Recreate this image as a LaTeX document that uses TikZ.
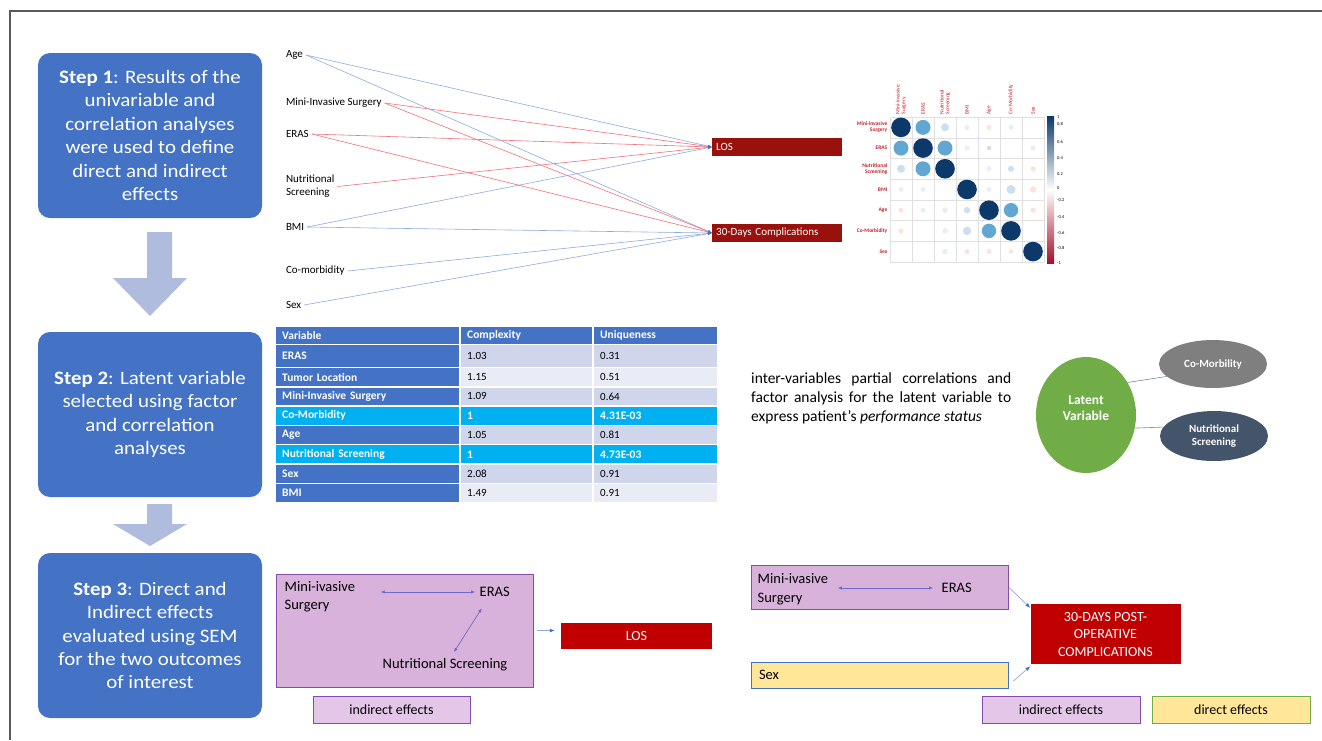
\documentclass[tikz,border=0pt]{standalone}
\usepackage{fontspec}
\setmainfont{Carlito}
\newfontfamily\stepfont[FakeStretch=1.1]{Carlito}
\usetikzlibrary{positioning,arrows.meta,shapes.geometric}

\definecolor{stepblue}{RGB}{68,114,196}
\definecolor{arrowgray}{RGB}{176,188,222}
\definecolor{outred}{RGB}{153,17,12}
\definecolor{semred}{RGB}{192,0,0}
\definecolor{lilac}{RGB}{216,178,219}
\definecolor{lilacline}{RGB}{134,76,172}
\definecolor{lilaclight}{RGB}{228,198,232}
\definecolor{sand}{RGB}{255,230,153}
\definecolor{leafgreen}{RGB}{112,173,71}
\definecolor{slate}{RGB}{68,84,106}
\definecolor{midgray}{RGB}{127,127,127}
\definecolor{linkblue}{RGB}{143,170,220}
\definecolor{linkred}{RGB}{242,112,122}
\definecolor{tbldark}{RGB}{207,213,234}
\definecolor{tbllight}{RGB}{233,235,245}
\definecolor{tblcyan}{RGB}{0,176,240}
\definecolor{corrnavy}{RGB}{12,56,106}
\definecolor{corrmid}{RGB}{98,166,210}
\definecolor{corrlight}{RGB}{202,223,240}
\definecolor{corrpale}{RGB}{230,239,247}
\definecolor{corrpink}{RGB}{251,227,216}
\definecolor{corrred}{RGB}{165,15,38}
\definecolor{corrtext}{RGB}{192,32,44}
\definecolor{twowayblue}{RGB}{112,106,200}
\definecolor{framegray}{RGB}{90,90,90}

\begin{document}
\begin{tikzpicture}[x=1pt, y=-1pt]
        % Define block styles
        \tikzstyle{stepbox} = [rectangle, fill=stepblue, text=white, rounded corners=12pt, minimum width=224pt, minimum height=165pt, align=center, font=\stepfont\fontsize{19}{23.4}\selectfont]
        \tikzstyle{var} = [anchor=west, inner sep=0.5pt, outer sep=2.5pt, align=left, font=\fontsize{11}{13}\selectfont]
        \tikzstyle{outcome} = [rectangle, fill=outred, text=white, anchor=west, minimum height=18pt, text width=122pt, inner xsep=4pt, inner ysep=0pt, font=\fontsize{11}{13}\selectfont]
        \tikzstyle{bluelink} = [draw=linkblue, line width=0.6pt, -{Latex[length=4pt, width=3pt, color=stepblue]}]
        \tikzstyle{redlink} = [draw=linkred, line width=0.6pt, -{Latex[length=4pt, width=3pt, color=stepblue]}]
        \tikzstyle{corrgrid} = [draw=black!12, line width=0.4pt]
        \tikzstyle{corrrow} = [anchor=east, align=right, text=corrtext, inner sep=0.5pt, font=\bfseries\fontsize{5.5}{6}\selectfont]
        \tikzstyle{corrcol} = [anchor=west, rotate=90, align=left, text=corrtext, inner sep=0.5pt, font=\fontsize{5.5}{5.8}\selectfont]
        \tikzstyle{barlabel} = [anchor=west, inner sep=0pt, font=\fontsize{4.5}{5}\selectfont]
        \tikzstyle{cell} = [rectangle, anchor=north west, inner xsep=6pt, inner ysep=0pt, font=\fontsize{11}{13}\selectfont]
        \tikzstyle{headcell} = [cell, fill=stepblue, text=white, font=\bfseries\fontsize{11.5}{13}\selectfont]
        \tikzstyle{varcell} = [cell, fill=stepblue, text=white, font=\bfseries\fontsize{11.5}{13}\selectfont]
        \tikzstyle{hicell} = [cell, fill=tblcyan, text=white, font=\bfseries\fontsize{11.5}{13}\selectfont]
        \tikzstyle{darkcell} = [cell, fill=tbldark]
        \tikzstyle{lightcell} = [cell, fill=tbllight]
        \tikzstyle{blob} = [ellipse, text=white, align=center, inner sep=0pt, font=\bfseries\fontsize{11}{13}\selectfont]
        \tikzstyle{semtext} = [anchor=west, align=left, inner sep=0.5pt, font=\fontsize{14.5}{18.5}\selectfont]
        \tikzstyle{frame} = [rectangle, draw=lilacline, fill=lilac, line width=0.8pt]
        \tikzstyle{legendbox} = [rectangle, line width=0.8pt, minimum width=157pt, minimum height=27pt, font=\fontsize{14}{16}\selectfont]
        \tikzstyle{effect} = [draw=linkblue, line width=0.7pt, -{Latex[length=5pt, width=4pt, color=stepblue]}]
        \tikzstyle{twoway} = [draw=twowayblue, line width=0.7pt, {Latex[length=4pt, width=3.5pt]}-{Latex[length=4pt, width=3.5pt]}]

        \useasboundingbox (0,0) rectangle (1322,740);
        \draw[framegray, line width=1.3pt] (1322,11) -- (10,11) -- (10,740);

        % Place nodes: steps
        \node [stepbox] (step1) at (150,135.5) {\textbf{Step 1}: Results of the\\univariable and\\correlation analyses\\were used to define\\direct and indirect\\effects};
        \node [stepbox] (step2) at (150,414.5) {\textbf{Step 2}: Latent variable\\selected using factor\\and correlation\\analyses};
        \node [stepbox] (step3) at (150,635.5) {\textbf{Step 3}: Direct and\\Indirect effects\\evaluated using SEM\\for the two outcomes\\of interest};
        \fill[arrowgray] (147,232) -- (172,232) -- (172,278) -- (187,278) -- (150,316) -- (113,278) -- (147,278) -- cycle;
        \fill[arrowgray] (147,504) -- (172,504) -- (172,524) -- (187,524) -- (150,546) -- (113,524) -- (147,524) -- cycle;

        % Univariable links
        \node [var] (age) at (283,55) {Age};
        \node [var] (mis) at (283,103) {Mini-Invasive Surgery};
        \node [var] (eras) at (283,134) {ERAS};
        \node [var] (nutr) at (283,186.5) {Nutritional\\Screening};
        \node [var] (bmi) at (283,227) {BMI};
        \node [var] (comorb) at (283,271) {Co-morbidity};
        \node [var] (sex) at (283,305) {Sex};
        \node [outcome] (los) at (712,147) {LOS};
        \node [outcome] (comp) at (712,233) {30-Days Complications};
        \foreach \a/\b in {age/los, age/comp, bmi/los, bmi/comp, comorb/comp, sex/comp}
            \draw[bluelink] (\a.east) -- (\b.west);
        \foreach \a/\b in {mis/los, mis/comp, eras/los, eras/comp, nutr/los}
            \draw[redlink] (\a.east) -- (\b.west);

        % Correlation plot
        \foreach \i in {0,...,7} {
            \draw[corrgrid] ({890+22*\i},117) -- ({890+22*\i},262);
            \draw[corrgrid] (890,{117+20.7*\i}) -- (1044,{117+20.7*\i});
        }
        \foreach \r/\c/\s/\col in {0/0/9.8/corrnavy, 0/1/7.5/corrmid, 0/2/4/corrlight, 0/3/2.5/corrpale, 0/4/2.5/corrpink, 0/5/2.5/corrpale,
            1/0/7.5/corrmid, 1/1/9.8/corrnavy, 1/2/7.5/corrmid, 1/3/2.5/corrpale, 1/4/2.2/corrlight, 1/6/2.5/corrpale,
            2/0/4/corrlight, 2/1/7.5/corrmid, 2/2/9.8/corrnavy, 2/4/2.5/corrpale, 2/5/3/corrlight, 2/6/2.5/corrpink,
            3/0/2.5/corrpale, 3/1/2.5/corrpale, 3/3/9.8/corrnavy, 3/4/2.5/corrpale, 3/5/4.5/corrlight, 3/6/3.2/corrpink,
            4/0/2.5/corrpink, 4/1/2.5/corrpale, 4/2/2.8/corrpale, 4/3/3.2/corrlight, 4/4/9.8/corrnavy, 4/5/7.2/corrmid, 4/6/2.5/corrpink,
            5/0/2.5/corrpink, 5/2/2.8/corrpale, 5/3/4.2/corrlight, 5/4/7.2/corrmid, 5/5/9.8/corrnavy,
            6/2/2.8/corrpale, 6/3/2.5/corrpink, 6/4/2.5/corrpink, 6/5/2.2/corrpink, 6/6/9.8/corrnavy}
            \fill[\col] ({901+22*\c},{127.35+20.7*\r}) circle[radius=\s pt];
        \foreach \t [count=\k from 0] in {{Mini-invasive\\Surgery}, ERAS, {Nutritional\\Screening}, BMI, Age, Co-Morbidity, Sex} {
            \node [corrrow] (row\k) at (888,{127.35+20.7*\k}) {\t};
            \node [corrcol] (col\k) at ({901+22*\k},115) {\t};
        }
        \shade[top color=corrnavy, middle color=corrmid, bottom color=white] (1047,116) rectangle (1054,189.5);
        \shade[top color=white, middle color=corrpink!60!red!70, bottom color=corrred] (1047,189.5) rectangle (1054,263);
        \foreach \v/\y [count=\k] in {1/117, 0.8/123.5, 0.6/141.5, 0.4/158, 0.2/174, 0/188, -0.2/200, -0.4/217.5, -0.6/232.5, -0.8/247.5, -1/263}
            \node [barlabel] (tick\k) at (1057,\y) {\v};

        % Factor table
        \node [headcell, minimum height=16.5pt, text width=171pt] (hvar) at (276,327) {Variable};
        \node [headcell, minimum height=16.5pt, text width=119pt] (hcpx) at (461,327) {Complexity};
        \node [headcell, minimum height=16.5pt, text width=111pt] (hunq) at (594,327) {Uniqueness};
        \foreach \v/\c/\u/\t/\h/\fa/\fb [count=\k] in {ERAS/1.03/0.31/345/21.5/varcell/darkcell,
            Tumor Location/1.15/0.51/368/17.8/varcell/lightcell,
            Mini-Invasive Surgery/1.09/0.64/387.3/17.8/varcell/darkcell,
            Co-Morbidity/1/4.31E-03/406.6/17.8/hicell/hicell,
            Age/1.05/0.81/425.9/17.8/varcell/darkcell,
            Nutritional Screening/1/4.73E-03/445.2/17.8/hicell/hicell,
            Sex/2.08/0.91/464.5/17.8/varcell/darkcell,
            BMI/1.49/0.91/483.8/17.8/varcell/lightcell} {
            \node [\fa, minimum height=\h pt, text width=171pt] (var\k) at (276,\t) {\v};
            \node [\fb, minimum height=\h pt, text width=119pt] (cpx\k) at (461,\t) {\c};
            \node [\fb, minimum height=\h pt, text width=111pt] (unq\k) at (594,\t) {\u};
        }

        % Latent variable
        \node [anchor=north west, inner sep=0pt, text width=260pt, align=justify, font=\fontsize{15.5}{18.7}\selectfont] (note) at (751,373)
            {inter-variables partial correlations and\linebreak factor analysis for the latent variable to\linebreak express patient's \textit{performance status}};
        \node [blob, fill=leafgreen, minimum width=100pt, minimum height=116pt, text depth=14pt, font=\bfseries\fontsize{13.5}{16}\selectfont] (latent) at (1086,415) {Latent\\Variable};
        \node [blob, fill=midgray, minimum width=108pt, minimum height=48pt] (cmb) at (1213,364) {Co-Morbility};
        \node [blob, fill=slate, minimum width=108pt, minimum height=50pt] (nsc) at (1214,436) {Nutritional\\Screening};
        \draw[linkblue!80!black, line width=0.6pt] (latent.38) -- (cmb.195);
        \draw[linkblue!80!black, line width=0.6pt] (latent.-15) -- (nsc.170);

        % SEM for LOS
        \node [frame, minimum width=257pt, minimum height=113pt] (semA) at (404.5,630.5) {};
        \node [semtext] (misA) at (284,596.5) {Mini-ivasive\\Surgery};
        \node [semtext] (erasA) at (479,592) {ERAS};
        \node [semtext, anchor=center] (nutrA) at (445,665) {Nutritional Screening};
        \draw[twoway] ([xshift=25pt]misA.east |- erasA.west) -- ([xshift=-4pt]erasA.west);
        \draw[twoway] ([xshift=-13pt,yshift=-11pt]erasA.south) -- ([xshift=9pt,yshift=6pt]nutrA.north);
        \node [rectangle, fill=semred, text=white, minimum width=151pt, minimum height=26pt, font=\fontsize{14}{16}\selectfont] (losB) at (636.5,636) {LOS};
        \draw[effect, shorten <=4pt, shorten >=6pt] (semA.east) -- (semA.east -| losB.west);
        \node [legendbox, draw=lilacline, fill=lilaclight] (ind1) at (391.5,709.5) {indirect effects};

        % SEM for complications
        \node [frame, minimum width=257pt, minimum height=44pt] (semB) at (879.5,587) {};
        \node [semtext] (misB) at (757,589) {Mini-ivasive\\Surgery};
        \node [semtext] (erasB) at (941,588) {ERAS};
        \draw[twoway] ([xshift=9pt]misB.east |- erasB.west) -- ([xshift=-8pt]erasB.west);
        \node [rectangle, fill=semred, text=white, minimum width=150pt, minimum height=60pt, align=center, font=\fontsize{14}{17.5}\selectfont] (compB) at (1105.5,634) {30-DAYS POST-\\OPERATIVE\\COMPLICATIONS};
        \node [rectangle, draw=stepblue, fill=sand, line width=0.8pt, minimum width=257pt, minimum height=26pt, text width=241pt, align=left, font=\fontsize{14.5}{16}\selectfont] (sexB) at (879.5,675) {Sex};
        \draw[effect, shorten <=1pt] (semB.east) -- ([yshift=-4pt]compB.north west);
        \draw[effect] ([xshift=5pt,yshift=-6pt]sexB.east) -- ([yshift=-2pt]compB.south west);
        \node [legendbox, draw=lilacline, fill=lilaclight, minimum width=158pt] (ind2) at (1061,709.5) {indirect effects};
        \node [legendbox, draw=leafgreen, fill=sand, minimum width=158pt] (dir2) at (1231,709.5) {direct effects};
\end{tikzpicture}
\end{document}
